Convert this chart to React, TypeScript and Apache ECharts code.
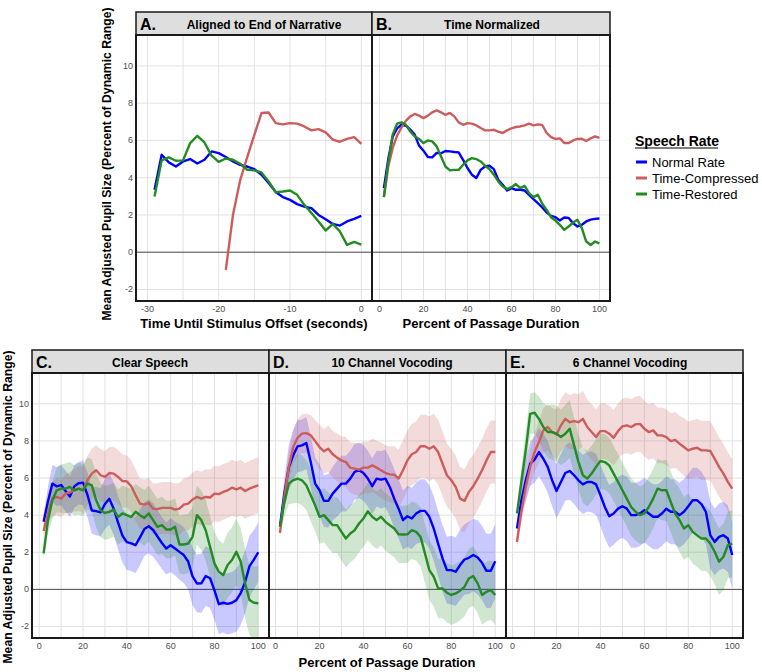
import { useEffect, useRef } from "react";
import * as echarts from "echarts";

// ---------- DATA ----------
const timeX = [-29, -28, -27, -26, -25, -24, -23, -22, -21, -20, -19, -18, -17, -16, -15, -14, -13, -12, -11, -10, -9, -8, -7, -6, -5, -4, -3, -2, -1, 0];
const timeXComp = [-19, -18, -17, -16, -15, -14, -13, -12, -11, -10, -9, -8, -7, -6, -5, -4, -3, -2, -1, 0];
const aNormal = [3.35, 5.23, 4.82, 4.6, 4.87, 5.0, 4.76, 4.96, 5.41, 5.32, 5.11, 4.87, 4.69, 4.6, 4.46, 4.16, 3.71, 3.23, 2.96, 2.81, 2.58, 2.45, 2.36, 2.0, 1.77, 1.52, 1.43, 1.65, 1.79, 1.95];
const aComp = [-0.95, 2.0, 3.85, 5.1, 6.3, 7.47, 7.5, 6.93, 6.86, 6.93, 6.9, 6.75, 6.54, 6.61, 6.43, 6.04, 5.93, 6.08, 6.18, 5.82];
const aRest = [2.99, 4.93, 5.09, 4.91, 4.93, 5.86, 6.25, 5.89, 5.18, 4.85, 5.03, 4.96, 4.75, 4.42, 4.39, 4.28, 3.8, 3.22, 3.26, 3.31, 3.08, 2.54, 2.1, 1.65, 1.16, 1.52, 1.11, 0.39, 0.55, 0.41];

const pct = [2, 4, 6, 8, 10, 12, 14, 16, 18, 20, 22, 24, 26, 28, 30, 32, 34, 36, 38, 40, 42, 44, 46, 48, 50, 52, 54, 56, 58, 60, 62, 64, 66, 68, 70, 72, 74, 76, 78, 80, 82, 84, 86, 88, 90, 92, 94, 96, 98, 100];

const bNormal = [3.44, 5.0, 6.2, 6.65, 6.84, 6.79, 6.58, 6.31, 5.72, 5.45, 5.11, 5.09, 5.33, 5.31, 5.43, 5.41, 5.38, 5.36, 4.96, 4.52, 4.16, 3.98, 4.42, 4.6, 4.64, 4.46, 3.89, 3.62, 3.31, 3.44, 3.35, 3.35, 3.31, 3.08, 2.85, 2.63, 2.4, 2.13, 1.95, 1.88, 1.7, 1.86, 1.84, 1.56, 1.38, 1.47, 1.65, 1.75, 1.79, 1.81];
const bComp = [2.96, 4.6, 5.6, 6.25, 6.7, 7.05, 7.29, 7.42, 7.33, 7.2, 7.33, 7.51, 7.61, 7.51, 7.37, 7.48, 7.29, 6.97, 6.84, 6.93, 6.9, 6.81, 6.67, 6.54, 6.54, 6.57, 6.47, 6.4, 6.54, 6.65, 6.72, 6.75, 6.81, 6.9, 6.81, 6.86, 6.83, 6.4, 6.18, 6.08, 6.11, 5.86, 5.86, 6.0, 6.08, 6.09, 5.97, 6.11, 6.22, 6.14];
const bRest = [2.96, 4.78, 6.31, 6.9, 6.97, 6.84, 6.48, 6.22, 6.08, 5.86, 6.0, 5.95, 5.68, 5.14, 4.6, 4.39, 4.42, 4.42, 4.69, 4.93, 5.05, 5.0, 4.87, 4.64, 4.46, 4.16, 3.8, 3.53, 3.39, 3.49, 3.66, 3.44, 3.56, 3.17, 2.96, 3.08, 2.6, 2.27, 1.88, 1.7, 1.47, 1.2, 1.38, 1.59, 1.74, 1.29, 0.57, 0.39, 0.57, 0.48];

const cNormal = [3.65, 4.75, 5.7, 5.55, 5.62, 5.3, 5.0, 5.55, 5.72, 5.75, 5.1, 4.25, 4.22, 4.15, 4.6, 4.88, 4.35, 3.6, 2.9, 2.55, 2.48, 2.38, 2.8, 3.25, 3.4, 3.2, 2.85, 2.5, 2.2, 2.38, 2.2, 2.02, 1.85, 1.5, 0.7, 0.32, 0.33, 0.72, 0.6, -0.05, -0.8, -0.72, -0.78, -0.72, -0.58, -0.2, 0.4, 1.25, 1.6, 2.0];
const cComp = [3.15, 4.09, 4.9, 4.98, 4.89, 5.16, 5.22, 5.34, 5.43, 5.34, 5.88, 6.24, 6.42, 6.15, 6.06, 6.27, 6.24, 6.06, 5.84, 5.82, 5.56, 5.07, 4.62, 4.57, 4.66, 4.35, 4.32, 4.39, 4.39, 4.39, 4.3, 4.35, 4.57, 4.62, 4.84, 4.98, 4.89, 4.98, 4.95, 5.16, 5.13, 5.25, 5.34, 5.48, 5.39, 5.48, 5.3, 5.43, 5.52, 5.61];
const cRest = [1.94, 3.73, 4.8, 5.34, 5.43, 5.43, 5.52, 5.34, 5.43, 5.34, 5.7, 5.61, 4.8, 4.27, 4.12, 4.18, 4.3, 3.9, 4.09, 4.0, 3.9, 4.18, 4.0, 3.85, 4.09, 3.73, 3.37, 3.46, 3.23, 3.23, 3.37, 2.42, 2.42, 2.47, 2.83, 4.0, 3.73, 3.19, 2.29, 1.4, 0.95, 0.77, 1.31, 1.58, 2.03, 1.49, 0.32, -0.57, -0.72, -0.75];
const cNormalSe = [0.4, 0.8, 1.0, 1.05, 1.1, 1.1, 1.1, 1.15, 1.15, 1.2, 1.2, 1.25, 1.3, 1.3, 1.35, 1.4, 1.4, 1.45, 1.45, 1.5, 1.5, 1.5, 1.5, 1.45, 1.45, 1.45, 1.4, 1.4, 1.4, 1.45, 1.45, 1.5, 1.5, 1.5, 1.55, 1.55, 1.6, 1.6, 1.6, 1.6, 1.6, 1.6, 1.65, 1.65, 1.7, 1.7, 1.7, 1.65, 1.6, 1.6];
const cCompSe = [0.3, 0.7, 0.9, 1.0, 1.0, 1.05, 1.1, 1.15, 1.2, 1.25, 1.3, 1.35, 1.35, 1.4, 1.4, 1.4, 1.45, 1.45, 1.45, 1.4, 1.4, 1.4, 1.35, 1.35, 1.35, 1.35, 1.4, 1.4, 1.4, 1.4, 1.4, 1.4, 1.4, 1.45, 1.45, 1.45, 1.45, 1.5, 1.5, 1.5, 1.5, 1.5, 1.5, 1.5, 1.5, 1.5, 1.5, 1.5, 1.5, 1.5];
const cRestSe = [0.3, 0.7, 1.0, 1.2, 1.3, 1.35, 1.35, 1.35, 1.4, 1.4, 1.4, 1.4, 1.45, 1.45, 1.45, 1.45, 1.45, 1.5, 1.5, 1.5, 1.5, 1.5, 1.5, 1.5, 1.5, 1.5, 1.5, 1.55, 1.55, 1.55, 1.55, 1.55, 1.6, 1.6, 1.6, 1.6, 1.6, 1.65, 1.65, 1.7, 1.7, 1.7, 1.75, 1.75, 1.8, 1.8, 1.85, 1.9, 1.95, 2.0];

const dNormal = [3.4, 5.2, 6.56, 7.22, 7.71, 7.76, 7.89, 6.86, 5.7, 5.34, 4.77, 4.77, 5.16, 5.43, 5.7, 5.7, 5.97, 6.33, 6.42, 6.27, 5.97, 5.56, 5.97, 5.91, 5.97, 5.52, 4.89, 4.35, 3.73, 3.94, 3.82, 4.09, 4.23, 4.23, 3.91, 3.28, 2.47, 1.67, 1.04, 1.04, 0.95, 1.31, 1.61, 1.7, 1.85, 1.72, 1.43, 1.0, 1.0, 1.52];
const dComp = [3.05, 5.0, 6.6, 7.67, 8.17, 8.39, 8.42, 8.3, 7.99, 7.67, 7.44, 7.58, 7.28, 7.1, 6.95, 6.86, 6.56, 6.51, 6.45, 6.56, 6.56, 6.68, 6.56, 6.42, 6.27, 6.2, 6.18, 5.97, 6.42, 6.95, 7.28, 7.4, 7.71, 7.71, 7.58, 7.71, 7.4, 6.77, 6.15, 5.88, 5.52, 4.89, 4.77, 5.25, 5.56, 5.97, 6.42, 6.95, 7.4, 7.4];
const dRest = [3.37, 4.7, 5.7, 5.88, 5.97, 5.88, 5.61, 5.07, 4.53, 3.91, 4.0, 3.73, 3.46, 3.46, 3.1, 2.74, 3.01, 3.19, 3.55, 3.82, 4.21, 3.91, 3.73, 3.91, 3.64, 3.46, 3.28, 2.97, 2.96, 2.97, 3.19, 3.1, 2.83, 1.94, 1.04, 0.68, 0.05, 0.05, -0.18, -0.3, -0.22, -0.07, 0.14, 0.59, 0.72, 0.32, -0.3, -0.13, -0.04, -0.3];
const dNormalSe = [0.3, 0.8, 1.2, 1.35, 1.4, 1.4, 1.4, 1.4, 1.4, 1.4, 1.4, 1.45, 1.45, 1.5, 1.5, 1.5, 1.5, 1.5, 1.5, 1.5, 1.5, 1.5, 1.5, 1.55, 1.55, 1.55, 1.6, 1.6, 1.6, 1.65, 1.65, 1.65, 1.7, 1.7, 1.7, 1.75, 1.75, 1.8, 1.8, 1.85, 1.85, 1.9, 1.9, 1.95, 1.95, 2.0, 2.0, 2.0, 2.0, 2.0];
const dCompSe = [0.3, 0.6, 0.8, 0.9, 1.0, 1.05, 1.05, 1.1, 1.15, 1.2, 1.2, 1.25, 1.25, 1.3, 1.3, 1.35, 1.35, 1.4, 1.4, 1.4, 1.4, 1.45, 1.45, 1.5, 1.5, 1.5, 1.55, 1.55, 1.6, 1.6, 1.65, 1.65, 1.7, 1.7, 1.75, 1.75, 1.75, 1.75, 1.7, 1.7, 1.7, 1.7, 1.7, 1.7, 1.7, 1.7, 1.7, 1.7, 1.7, 1.7];
const dRestSe = [0.3, 0.8, 1.1, 1.25, 1.3, 1.35, 1.35, 1.4, 1.4, 1.45, 1.45, 1.5, 1.5, 1.5, 1.55, 1.55, 1.55, 1.55, 1.55, 1.55, 1.55, 1.55, 1.55, 1.55, 1.55, 1.55, 1.55, 1.55, 1.55, 1.55, 1.55, 1.55, 1.6, 1.6, 1.6, 1.6, 1.6, 1.6, 1.6, 1.6, 1.6, 1.6, 1.6, 1.6, 1.6, 1.6, 1.6, 1.6, 1.6, 1.6];

const eNormal = [3.28, 4.8, 5.88, 6.77, 6.99, 7.4, 7.04, 6.6, 5.88, 5.3, 5.79, 6.27, 6.38, 6.15, 5.88, 5.66, 5.79, 5.79, 5.66, 5.07, 4.44, 3.94, 4.09, 4.35, 4.48, 4.35, 4.0, 4.0, 4.09, 4.27, 4.09, 3.91, 3.91, 4.09, 4.35, 4.18, 4.18, 4.0, 4.18, 4.48, 4.8, 4.8, 4.59, 4.18, 2.92, 2.56, 2.83, 2.92, 2.74, 1.85];
const eComp = [2.56, 4.2, 5.52, 6.6, 7.4, 7.94, 8.57, 8.75, 8.48, 8.35, 8.84, 9.19, 9.01, 9.07, 9.01, 9.19, 8.75, 8.48, 8.21, 8.53, 8.53, 8.39, 8.17, 8.53, 8.78, 8.84, 8.75, 8.89, 8.92, 8.66, 8.48, 8.57, 8.3, 8.3, 8.21, 7.99, 8.06, 7.85, 7.67, 7.49, 7.58, 7.63, 7.49, 7.49, 7.46, 7.04, 6.6, 6.24, 5.79, 5.43];
const eRest = [4.09, 5.8, 7.5, 9.46, 9.52, 9.19, 8.75, 8.48, 8.48, 8.39, 8.21, 8.39, 8.66, 7.76, 6.86, 6.15, 5.97, 6.24, 6.6, 6.92, 6.86, 6.68, 6.24, 5.79, 5.34, 4.89, 4.44, 4.18, 4.0, 4.09, 4.44, 4.89, 5.43, 5.34, 5.34, 4.71, 4.09, 3.73, 3.28, 3.46, 3.1, 2.92, 2.74, 2.74, 2.47, 2.03, 1.49, 1.76, 2.38, 2.47];
const eNormalSe = [0.3, 0.8, 1.1, 1.2, 1.25, 1.3, 1.35, 1.4, 1.4, 1.45, 1.5, 1.5, 1.55, 1.55, 1.6, 1.6, 1.6, 1.65, 1.65, 1.65, 1.7, 1.7, 1.7, 1.7, 1.7, 1.75, 1.75, 1.75, 1.75, 1.75, 1.75, 1.75, 1.75, 1.75, 1.75, 1.75, 1.75, 1.75, 1.75, 1.75, 1.75, 1.75, 1.75, 1.75, 1.8, 1.8, 1.8, 1.8, 1.8, 1.8];
const eCompSe = [0.3, 0.6, 0.8, 0.95, 1.05, 1.15, 1.2, 1.25, 1.3, 1.35, 1.4, 1.45, 1.45, 1.5, 1.5, 1.5, 1.5, 1.5, 1.5, 1.5, 1.5, 1.5, 1.5, 1.5, 1.5, 1.5, 1.5, 1.5, 1.5, 1.5, 1.5, 1.5, 1.5, 1.5, 1.5, 1.5, 1.5, 1.5, 1.55, 1.55, 1.55, 1.55, 1.6, 1.6, 1.6, 1.6, 1.6, 1.6, 1.6, 1.6];
const eRestSe = [0.3, 0.8, 1.0, 1.1, 1.1, 1.2, 1.3, 1.4, 1.5, 1.5, 1.5, 1.55, 1.55, 1.5, 1.5, 1.5, 1.5, 1.5, 1.5, 1.5, 1.5, 1.5, 1.5, 1.5, 1.5, 1.5, 1.55, 1.55, 1.55, 1.6, 1.6, 1.6, 1.6, 1.6, 1.65, 1.65, 1.65, 1.7, 1.7, 1.7, 1.7, 1.7, 1.75, 1.75, 1.75, 1.75, 1.8, 1.8, 1.8, 1.8];

const seriesNames = ["Normal Rate", "Time-Compressed", "Time-Restored"];
const yTickLabels = [-2, 0, 2, 4, 6, 8, 10];
const timeTickLabels = [-30, -20, -10, 0];
const pctTickLabels = [0, 20, 40, 60, 80, 100];
const timeGridLines = [-30, -25, -20, -15, -10, -5, 0];
const pctGridLines = [0, 10, 20, 30, 40, 50, 60, 70, 80, 90, 100];
const panelLetters = ["A.", "B.", "C.", "D.", "E."];
const panelTitles = ["Aligned to End of Narrative", "Time Normalized", "Clear Speech", "10 Channel Vocoding", "6 Channel Vocoding"];

// ---------- STYLE / LAYOUT ----------
const FONT = "'Liberation Sans', Arial, Helvetica, sans-serif";
const COLORS = ["#0000FF", "#CD5C5C", "#228B22"];
const FILLS = ["rgba(0,0,255,0.21)", "rgba(205,92,92,0.22)", "rgba(34,139,34,0.21)"];
const YMIN = -2.62;
const YMAX = 11.66;

const layout = [
  { left: 136, top: 35, width: 236, height: 266, stripTop: 12, xmin: -31.6, xmax: 1.5, showY: true, titleX: 264 },
  { left: 372, top: 35, width: 238, height: 266, stripTop: 12, xmin: -3.4, xmax: 104.8, showY: false, titleX: 492 },
  { left: 32, top: 373, width: 237, height: 265, stripTop: 350, xmin: -3.3, xmax: 104.9, showY: true, titleX: 150 },
  { left: 269, top: 373, width: 237, height: 265, stripTop: 350, xmin: -3.0, xmax: 104.9, showY: false, titleX: 392 },
  { left: 506, top: 373, width: 237, height: 265, stripTop: 350, xmin: -3.0, xmax: 104.9, showY: false, titleX: 630 },
];

function lineSeries(name: string, xs: number[], ys: number[], ci: number, gi: number) {
  return {
    type: "line",
    name,
    xAxisIndex: gi,
    yAxisIndex: gi,
    data: xs.map((x, i) => [x, ys[i]]),
    showSymbol: false,
    symbol: "none",
    clip: true,
    silent: true,
    z: 3,
    lineStyle: { color: COLORS[ci], width: 2.4, join: "round" },
    itemStyle: { color: COLORS[ci] },
  };
}

function ribbonSeries(xs: number[], mean: number[], se: number[], ci: number, gi: number) {
  return {
    type: "custom",
    xAxisIndex: gi,
    yAxisIndex: gi,
    silent: true,
    clip: true,
    z: 2,
    data: [[xs[0], mean[0]]],
    renderItem: (_p: any, api: any) => {
      const upper = xs.map((x, i) => api.coord([x, mean[i] + se[i]]));
      const lower = xs.map((x, i) => api.coord([x, mean[i] - se[i]])).reverse();
      return {
        type: "polygon",
        shape: { points: upper.concat(lower) },
        style: { fill: FILLS[ci], stroke: null },
      };
    },
  };
}

function gridSeries(gi: number, xv: number[]) {
  return {
    type: "custom",
    xAxisIndex: gi,
    yAxisIndex: gi,
    silent: true,
    z: 1,
    data: [[xv[0], 0]],
    renderItem: (params: any, api: any) => {
      const cs = params.coordSys;
      const children: any[] = [];
      xv.forEach((v) => {
        const p = api.coord([v, 0]);
        children.push({ type: "line", shape: { x1: p[0], y1: cs.y, x2: p[0], y2: cs.y + cs.height }, style: { stroke: "#e2e2e2", lineWidth: 1 } });
      });
      yTickLabels.forEach((v) => {
        const p = api.coord([xv[0], v]);
        children.push({ type: "line", shape: { x1: cs.x, y1: p[1], x2: cs.x + cs.width, y2: p[1] }, style: { stroke: "#e2e2e2", lineWidth: 1 } });
      });
      const z0 = api.coord([xv[0], 0]);
      children.push({ type: "line", shape: { x1: cs.x, y1: z0[1], x2: cs.x + cs.width, y2: z0[1] }, style: { stroke: "#4d4d4d", lineWidth: 1 } });
      return { type: "group", children };
    },
  };
}

function buildOption() {
  const grid = layout.map((p) => ({ left: p.left, top: p.top, width: p.width, height: p.height, show: false }));
  const xAxis = layout.map((p, i) => ({
    type: "value",
    gridIndex: i,
    min: p.xmin,
    max: p.xmax,
    axisLine: { show: false, onZero: false },
    axisTick: { show: false },
    splitLine: { show: false },
    axisLabel: { customValues: i === 0 ? timeTickLabels : pctTickLabels, fontSize: 9, color: "#4d4d4d", margin: 3, fontFamily: FONT },
  }));
  const yAxis = layout.map((p, i) => ({
    type: "value",
    gridIndex: i,
    min: YMIN,
    max: YMAX,
    axisLine: { show: false, onZero: false },
    axisTick: { show: false },
    splitLine: { show: false },
    axisLabel: p.showY
      ? { customValues: yTickLabels, fontSize: 9, color: "#4d4d4d", margin: 3, fontFamily: FONT }
      : { show: false },
  }));

  const series: any[] = [];
  layout.forEach((_p, i) => series.push(gridSeries(i, i === 0 ? timeGridLines : pctGridLines)));

  const ribbonPanels = [
    { gi: 2, means: [cNormal, cComp, cRest], ses: [cNormalSe, cCompSe, cRestSe] },
    { gi: 3, means: [dNormal, dComp, dRest], ses: [dNormalSe, dCompSe, dRestSe] },
    { gi: 4, means: [eNormal, eComp, eRest], ses: [eNormalSe, eCompSe, eRestSe] },
  ];
  ribbonPanels.forEach((rp) => rp.means.forEach((m, ci) => series.push(ribbonSeries(pct, m, rp.ses[ci], ci, rp.gi))));

  series.push(lineSeries(seriesNames[0], timeX, aNormal, 0, 0));
  series.push(lineSeries(seriesNames[1], timeXComp, aComp, 1, 0));
  series.push(lineSeries(seriesNames[2], timeX, aRest, 2, 0));
  series.push(lineSeries(seriesNames[0], pct, bNormal, 0, 1));
  series.push(lineSeries(seriesNames[1], pct, bComp, 1, 1));
  series.push(lineSeries(seriesNames[2], pct, bRest, 2, 1));
  ribbonPanels.forEach((rp) => rp.means.forEach((m, ci) => series.push(lineSeries(seriesNames[ci], pct, m, ci, rp.gi))));

  const graphic: any[] = [];
  layout.forEach((p, i) => {
    graphic.push({ type: "rect", z: 50, shape: { x: p.left, y: p.stripTop, width: p.width, height: p.top - p.stripTop }, style: { fill: "#dedede", stroke: "#1a1a1a", lineWidth: 1.5 } });
    graphic.push({ type: "rect", z: 60, shape: { x: p.left, y: p.top, width: p.width, height: p.height }, style: { fill: null, stroke: "#1a1a1a", lineWidth: 2 } });
    const cy = (p.stripTop + p.top) / 2;
    graphic.push({ type: "text", z: 70, x: p.left + 4, y: cy + 1, style: { text: panelLetters[i], font: `bold 16px ${FONT}`, fill: "#000", textAlign: "left", textVerticalAlign: "middle" } });
    graphic.push({ type: "text", z: 70, x: p.titleX, y: cy + 1, style: { text: panelTitles[i], font: `bold 12px ${FONT}`, fill: "#000", textAlign: "center", textVerticalAlign: "middle" } });
  });
  const yTitle = "Mean Adjusted Pupil Size (Percent of Dynamic Range)";
  graphic.push({ type: "text", z: 70, x: 107, y: 164, rotation: Math.PI / 2, style: { text: yTitle, font: `bold 12.2px ${FONT}`, fill: "#000", textAlign: "center", textVerticalAlign: "middle" } });
  graphic.push({ type: "text", z: 70, x: 8, y: 507, rotation: Math.PI / 2, style: { text: yTitle, font: `bold 12.2px ${FONT}`, fill: "#000", textAlign: "center", textVerticalAlign: "middle" } });
  graphic.push({ type: "text", z: 70, x: 254, y: 323, style: { text: "Time Until Stimulus Offset (seconds)", font: `bold 13px ${FONT}`, fill: "#000", textAlign: "center", textVerticalAlign: "middle" } });
  graphic.push({ type: "text", z: 70, x: 491, y: 323, style: { text: "Percent of Passage Duration", font: `bold 13px ${FONT}`, fill: "#000", textAlign: "center", textVerticalAlign: "middle" } });
  graphic.push({ type: "text", z: 70, x: 387, y: 662, style: { text: "Percent of Passage Duration", font: `bold 13px ${FONT}`, fill: "#000", textAlign: "center", textVerticalAlign: "middle" } });
  graphic.push({ type: "text", z: 70, x: 635, y: 141, style: { text: "Speech Rate", font: `bold 14px ${FONT}`, fill: "#000", textAlign: "left", textVerticalAlign: "middle" } });
  graphic.push({ type: "line", z: 70, shape: { x1: 635, y1: 148, x2: 718, y2: 148 }, style: { stroke: "#000", lineWidth: 1.2 } });

  return {
    animation: false,
    backgroundColor: "#fff",
    textStyle: { fontFamily: FONT },
    grid,
    xAxis,
    yAxis,
    legend: {
      data: seriesNames,
      orient: "vertical",
      left: 636,
      top: 154,
      padding: 0,
      itemGap: 0,
      itemWidth: 11,
      itemHeight: 3,
      icon: "rect",
      selectedMode: false,
      textStyle: { fontSize: 13, color: "#000", fontFamily: FONT, lineHeight: 16 },
    },
    series,
    graphic,
  };
}

export default function App() {
  const ref = useRef<HTMLDivElement>(null);
  useEffect(() => {
    const chart = echarts.init(ref.current!, null, { renderer: "svg" });
    chart.setOption(buildOption() as any);
    return () => chart.dispose();
  }, []);
  return <div ref={ref} style={{ position: "fixed", left: 0, top: 0, width: 762, height: 672, background: "#fff" }} />;
}
